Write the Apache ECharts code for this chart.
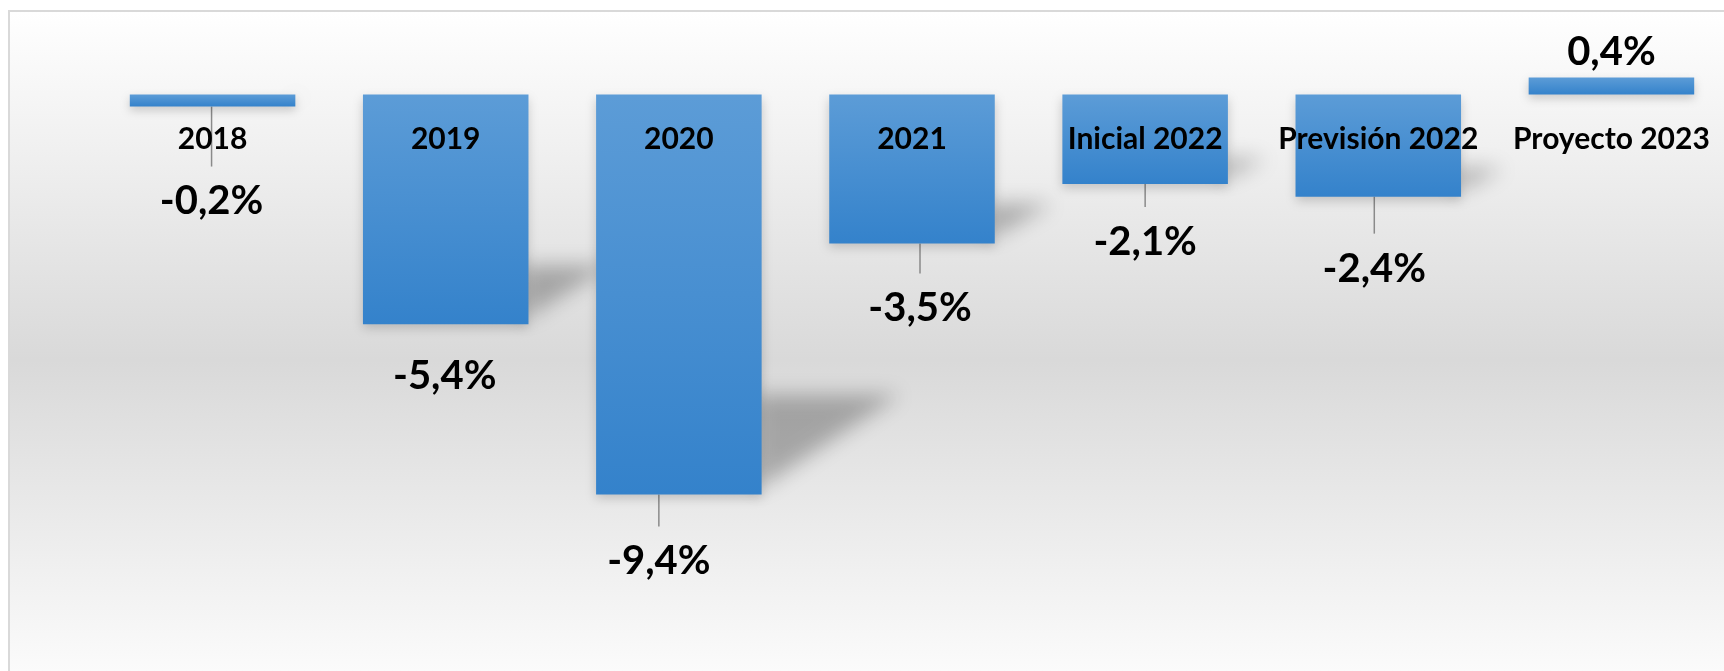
<!DOCTYPE html>
<html>
<head>
<meta charset="utf-8">
<script src="https://cdn.jsdelivr.net/npm/echarts@6/dist/echarts.min.js"></script>
<style>
    html, body { margin: 0; padding: 0; background: #fff; width: 1724px; height: 671px; overflow: hidden; }
    .frame {
        position: absolute; left: 8px; top: 10px; width: 1760px; height: 700px;
        border: 2px solid #d9d9d9; box-sizing: border-box;
        background: linear-gradient(to bottom, #ffffff 0%, #d9d9d9 50%, #ffffff 100%);
    }
    #chart { position: absolute; left: 0; top: 0; width: 1724px; height: 671px; }
</style>
</head>
<body>
<div class="frame"></div>
<div id="chart"></div>
<script>
    const categories = ['2018', '2019', '2020', '2021', 'Inicial 2022', 'Previsión 2022', 'Proyecto 2023'];
    const variation = [-0.2, -5.4, -9.4, -3.5, -2.1, -2.4, 0.4];

    // where each value label sits: [dx, dy] from the end of its bar to the label centre (px)
    const labelShift = [[-1, 95], [-1, 52], [-20, 67], [8, 65], [0, 58], [-4, 72], [0, -25]];
    const showLeader = [true, false, true, true, true, true, false];

    const font = 'Lato, "Open Sans", sans-serif';

    // grid and value range, the category labels hang from the zero line
    const gridTop = 52, gridHeight = 468, yMin = -10, yMax = 1;
    const zeroFromBottom = gridHeight * (0 - yMin) / (yMax - yMin);

    let chart = echarts.init(document.getElementById('chart'));

    // skewed drop shadow behind the negative bars
    function renderShadow(params, api) {
        const v = api.value(1);
        if (v >= 0) return;
        const base = api.coord([api.value(0), 0]);
        const end = api.coord([api.value(0), v]);
        const right = end[0] + api.size([1, 0])[0] * 0.71 / 2;
        const h = end[1] - base[1];
        const rise = h * 0.24 + 4;
        const run = h * 0.32 + 10;
        const far = 3000;
        return {
            type: 'polygon',
            silent: true,
            shape: {
                points: [
                    [right - far - 6, end[1] - 4],
                    [right - far - 6, end[1] - rise],
                    [right + run - far, end[1] - rise]
                ]
            },
            style: {
                fill: '#000',
                shadowBlur: 20,
                shadowColor: 'rgba(0,0,0,0.27)',
                shadowOffsetX: far
            }
        };
    }

    let options = {
        animation: false,
        grid: {
            left: 96,
            width: 1632,
            top: gridTop,
            height: gridHeight,
            outerBoundsMode: 'none'
        },
        xAxis: {
            type: 'category',
            data: categories,
            z: 5,
            position: 'bottom',
            offset: -zeroFromBottom,
            axisLine: { show: false, onZero: false },
            axisTick: { show: false },
            splitLine: { show: false },
            axisLabel: {
                interval: 0,
                margin: 30,
                fontFamily: font,
                fontSize: 30,
                fontWeight: 'bold',
                color: '#000'
            }
        },
        yAxis: {
            type: 'value',
            min: yMin,
            max: yMax,
            show: false,
            splitLine: { show: false }
        },
        series: [
            {
                type: 'custom',
                z: 1,
                clip: false,
                renderItem: renderShadow,
                data: variation.map((v, i) => [i, v])
            },
            {
                type: 'bar',
                z: 2,
                barWidth: '71%',
                barMinHeight: 12,
                data: variation.map((v, i) => ({
                    value: v,
                    labelLine: { show: showLeader[i] }
                })),
                itemStyle: {
                    color: {
                        type: 'linear',
                        x: 0, y: 0, x2: 0, y2: 1,
                        colorStops: [
                            { offset: 0, color: '#5c9cd7' },
                            { offset: 1, color: '#3482cb' }
                        ]
                    },
                    shadowBlur: 10,
                    shadowColor: 'rgba(0,0,0,0.18)',
                    shadowOffsetY: 4
                },
                label: {
                    show: true,
                    position: 'bottom',
                    fontFamily: font,
                    fontSize: 40,
                    fontWeight: 'bold',
                    color: '#000',
                    lineHeight: 70,
                    formatter: p => p.value.toFixed(1).replace('.', ',') + '%'
                },
                labelLine: {
                    show: true,
                    lineStyle: { color: '#8a8a8a', width: 1.5 }
                },
                labelLayout: function (p) {
                    const s = labelShift[p.dataIndex];
                    const r = p.rect;
                    const endY = variation[p.dataIndex] < 0 ? r.y + r.height : r.y;
                    return {
                        x: r.x + r.width / 2 + s[0],
                        y: endY + s[1],
                        align: 'center',
                        verticalAlign: 'middle'
                    };
                }
            }
        ]
    };
    chart.setOption(options);
</script>
</body>
</html>
